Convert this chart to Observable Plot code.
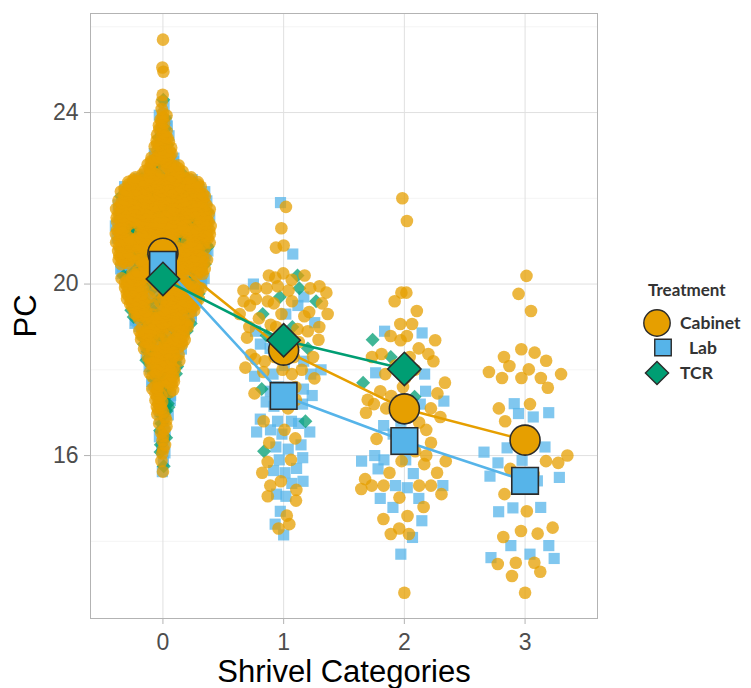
<!DOCTYPE html>
<html><head><meta charset="utf-8">
<script src="https://cdn.jsdelivr.net/npm/d3@7"></script>
<script src="https://cdn.jsdelivr.net/npm/@observablehq/plot@0.6"></script>
<style>
body{margin:0;background:#fff;}
#wrap{position:relative;width:751px;height:688px;overflow:hidden;}
#wrap svg text{font-family:"Liberation Sans", Arial, sans-serif;}
#legend{position:absolute;left:0;top:0;pointer-events:none;}
#legend text{font-family:Lato, "Open Sans", sans-serif !important;font-weight:bold;}
</style></head>
<body><div id="wrap"></div>
<script>
// ---------------- data ----------------
const categories = [0, 1, 2, 3];
const treatments = ["Cabinet", "Lab", "TCR"];
const colors = ["#E69F00", "#56B4E9", "#009E73"];
const symbols = ["circle", "square", "diamond2"];
const yTicks = [16, 20, 24];
const yMinor = [14, 18, 22, 26];

// category 0: counts per 0.5-wide bin starting at 15.5
const binStart = 15.5, binWidth = 0.5;
const cat0CabinetBins = [2,5,7,13,23,32,45,62,78,90,99,106,105,96,34,18,11,3];
const cat0LabBins     = [2,4,5,8,12,16,20,27,32,36,38,40,38,34,12,6,4,0];
const cat0TCRBins     = [1,3,3,6,8,10,13,16,19,20,21,21,19,15,5,3,2,0];
const cat0CabinetExtra = [25.7, 25.05, 24.95];
const cat0LabExtra = [24.15];
const cat0TCRExtra = [24.3];

const cat1Cabinet = [21.8,21.3,20.9,20.85,20.25,20.2,20.2,20.15,20.1,19.95,19.95,19.9,19.9,19.9,19.85,19.85,19.8,
  19.65,19.6,19.6,19.6,19.55,19.55,19.5,19.35,19.3,19.3,19.3,19.25,19.2,19.05,19.0,19.0,19.0,18.95,18.9,
  18.75,18.7,18.7,18.65,18.35,18.3,18.3,18.3,18.25,18.2,18.05,18.0,18.0,17.95,17.9,
  17.8,17.6,17.45,17.3,17.1,16.8,16.6,16.4,16.3,15.9,15.85,15.6,15.4,15.3,15.2,15.05,14.95,14.6,14.4,14.3];
const cat1Lab = [21.9,20.7,20.0,19.7,19.5,19.3,19.1,18.9,18.8,18.6,18.5,18.4,18.2,18.1,18.0,17.9,17.9,17.85,17.6,
  17.55,17.5,17.45,17.4,17.3,17.25,17.2,17.15,16.85,16.8,16.8,16.75,16.6,16.55,16.55,16.5,16.25,16.2,16.15,
  15.95,15.9,15.7,15.65,15.6,15.4,15.35,15.1,15.05,14.7,14.4,14.15];
const cat1TCR = [20.2,19.9,19.7,19.6,19.3,19.0,18.8,18.5,17.55,16.8,16.1];

const cat2Cabinet = [22.0,21.47,19.8,19.8,19.6,19.37,19.07,19.07,18.79,18.79,18.69,18.69,18.37,18.37,18.3,18.3,
  18.5,18.2,18.1,18.0,17.9,17.8,17.7,17.6,17.5,17.45,17.39,17.3,17.2,17.1,17.1,17.0,16.9,16.77,16.6,16.5,
  16.39,16.3,16.1,16.0,15.87,15.87,15.8,15.6,15.6,15.45,15.3,15.3,15.3,15.3,15.22,15.1,15.02,14.8,14.59,
  14.52,14.3,14.17,14.17,12.8];
const cat2Lab = [18.9,18.86,17.93,17.9,17.5,17.27,17.23,17.2,17.0,16.8,16.7,16.5,16.2,16.0,15.9,15.9,15.87,
  15.69,15.58,15.3,15.3,15.25,15.0,15.0,14.79,14.48,14.09,13.7];
const cat2TCR = [18.7,18.3,17.7,17.37];

const cat3Cabinet = [20.19,19.77,19.37,18.48,18.40,18.21,18.09,18.01,17.81,17.81,17.81,17.9,17.58,17.95,18.3,
  17.1,17.2,16.8,16.18,16.0,15.57,15.83,15.87,15.69,15.49,15.1,14.7,14.32,14.1,14.18,14.24,13.5,13.5,
  13.29,13.19,12.8,13.47];
const cat3Lab = [17.21,16.98,16.9,17.0,16.2,16.18,16.08,15.83,15.89,15.52,15.49,15.41,14.79,14.69,14.78,
  13.9,13.9,13.62,13.7,13.6];
const cat3TCR = [];

const meanCabinet = [20.72, 18.46, 17.09, 16.36];
const meanLab = [20.45, 17.39, 16.34, 15.41];
const meanTCR = [20.12, 18.69, 18.02];

// ---------------- build tables ----------------
const expandBins = counts => counts.flatMap((n, i) =>
  d3.range(n).map(k => binStart + binWidth * i + binWidth * (k + 0.5) / n));

const byCat = {
  0: {Cabinet: [...expandBins(cat0CabinetBins), ...cat0CabinetExtra],
      Lab: [...expandBins(cat0LabBins), ...cat0LabExtra],
      TCR: [...expandBins(cat0TCRBins), ...cat0TCRExtra]},
  1: {Cabinet: cat1Cabinet, Lab: cat1Lab, TCR: cat1TCR},
  2: {Cabinet: cat2Cabinet, Lab: cat2Lab, TCR: cat2TCR},
  3: {Cabinet: cat3Cabinet, Lab: cat3Lab, TCR: cat3TCR}
};

function vdc(n) {
  const out = [];
  for (let i = 1; i <= n; i++) {
    let x = 0, f = 0.5, k = i;
    while (k > 0) { x += f * (k % 2); k = Math.floor(k / 2); f /= 2; }
    out.push(x);
  }
  return out;
}
// quasirandom offsets (like ggbeeswarm::geom_quasirandom, width 0.4, bandwidth 0.5)
function quasiOffsets(vals, width = 0.4, adjust = 0.5) {
  const n = vals.length;
  if (n < 2) return vals.map(() => 0);
  const sorted = vals.slice().sort(d3.ascending);
  const sd = d3.deviation(vals) || 0;
  const iqr = d3.quantileSorted(sorted, 0.75) - d3.quantileSorted(sorted, 0.25);
  let lo = Math.min(sd, iqr / 1.34);
  if (!(lo > 0)) lo = sd || 1;
  const bw = 0.9 * lo * Math.pow(n, -0.2) * adjust;
  const dens = y => { let s = 0; for (const v of vals) { const z = (y - v) / bw; s += Math.exp(-0.5 * z * z); } return s; };
  const g0 = sorted[0] - 3 * bw, g1 = sorted[n - 1] + 3 * bw;
  let mx = 0;
  for (let i = 0; i < 512; i++) mx = Math.max(mx, dens(g0 + (g1 - g0) * i / 511));
  const idx = d3.range(n).sort((a, b) => vals[a] - vals[b] || a - b);
  const rank = new Array(n); idx.forEach((j, r) => rank[j] = r);
  const seq = vdc(n);
  return vals.map((v, j) => (seq[rank[j]] * 2 - 1) * width * dens(v) / mx);
}

let points = [];
for (const c of categories) {
  const rows = treatments.flatMap(t => byCat[c][t].map(v => ({cat: c, treatment: t, v})));
  const offs = quasiOffsets(rows.map(r => r.v));
  rows.forEach((r, i) => r.off = offs[i]);
  points = points.concat(rows);
}
const drawOrder = {Lab: 0, TCR: 1, Cabinet: 2};
points.sort((a, b) => drawOrder[a.treatment] - drawOrder[b.treatment]);

const means = [
  ...meanCabinet.map((v, i) => ({cat: categories[i], treatment: "Cabinet", v})),
  ...meanLab.map((v, i) => ({cat: categories[i], treatment: "Lab", v})),
  ...meanTCR.map((v, i) => ({cat: categories[i], treatment: "TCR", v}))
];

// ---------------- plot ----------------
const FF = "Liberation Sans, Arial, sans-serif";
const chart = Plot.plot({
  width: 751, height: 688,
  marginLeft: 90, marginRight: 154, marginTop: 13, marginBottom: 70,
  style: "font-family: 'Liberation Sans', Arial, sans-serif; background: #fff;",
  x: {type: "linear", domain: [-0.6, 3.6]},
  y: {domain: [12.2, 26.31]},
  color: {domain: treatments, range: colors},
  symbol: {domain: treatments, range: symbols},
  marks: [
    Plot.gridY(yMinor, {stroke: "#ececec", strokeOpacity: 1, strokeWidth: 0.6}),
    Plot.gridY(yTicks, {stroke: "#e0e0e0", strokeOpacity: 1, strokeWidth: 1}),
    Plot.gridX(categories, {stroke: "#e0e0e0", strokeOpacity: 1, strokeWidth: 1}),
    Plot.dot(points, {x: d => d.cat + d.off, y: "v", symbol: "treatment", fill: "treatment",
      r: 6.3, fillOpacity: 0.75, stroke: "none"}),
    Plot.line(means, {x: "cat", y: "v", stroke: "treatment", z: "treatment", strokeWidth: 2.6}),
    Plot.dot(means, {x: "cat", y: "v", symbol: "treatment", fill: "treatment",
      r: 15, stroke: "#2b2b2b", strokeWidth: 1.6}),
    Plot.frame({stroke: "#b3b3b3", strokeWidth: 1}),
    Plot.axisY(yTicks, {tickSize: 6, tickPadding: 6, stroke: "#b3b3b3", fill: "#4d4d4d",
      fontSize: 23, fontFamily: FF, label: null, tickFormat: d => String(d)}),
    Plot.axisX(categories, {tickSize: 6, tickPadding: 9, stroke: "#b3b3b3", fill: "#4d4d4d",
      fontSize: 23, fontFamily: FF, label: null, tickFormat: d => String(d)}),
    Plot.text(["Shrivel Categories"], {frameAnchor: "bottom", lineAnchor: "top", dy: 41,
      fontSize: 31, fontFamily: FF, fill: "#000"}),
    Plot.text(["PC"], {frameAnchor: "left", rotate: -90, textAnchor: "middle", lineAnchor: "middle",
      dx: -64, fontSize: 31, fontFamily: FF, fill: "#000"})
  ]
});
document.getElementById("wrap").appendChild(chart);

// ---------------- legend (right side) ----------------
const lg = d3.select("#wrap").append("svg").attr("id", "legend")
  .attr("width", 751).attr("height", 688);
lg.append("text").attr("x", 648).attr("y", 290).attr("dy", "0.35em")
  .attr("font-size", 17).attr("fill", "#333").text("Treatment");
const items = [
  {t: "Cabinet", cx: 657, cy: 323, size: 13.2 * 13.2 * Math.PI, tx: 680},
  {t: "Lab", cx: 663, cy: 347.5, size: 16.5 * 16.5, tx: 689},
  {t: "TCR", cx: 657, cy: 373, size: 18.5 * 18.5, tx: 680}
];
const symFns = {Cabinet: d3.symbolCircle, Lab: d3.symbolSquare, TCR: d3.symbolDiamond2};
items.forEach((it, i) => {
  lg.append("path").attr("transform", `translate(${it.cx},${it.cy})`)
    .attr("d", d3.symbol(symFns[it.t], it.size)())
    .attr("fill", colors[i]).attr("stroke", "#2b2b2b").attr("stroke-width", 1.4);
  lg.append("text").attr("x", it.tx).attr("y", it.cy).attr("dy", "0.35em")
    .attr("font-size", 17.5).attr("fill", "#333").text(it.t);
});
</script>
</body></html>
